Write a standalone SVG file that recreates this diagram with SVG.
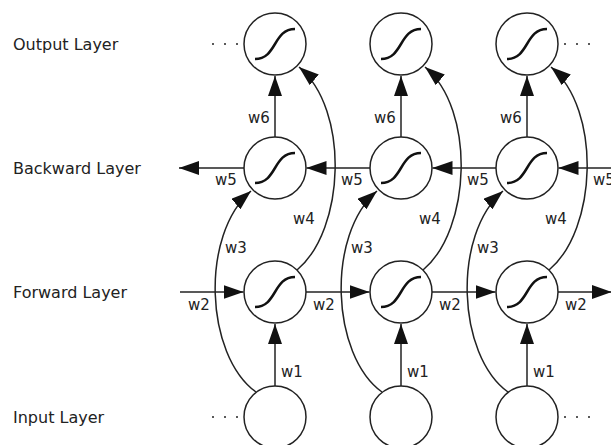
<svg xmlns="http://www.w3.org/2000/svg" width="611" height="445" viewBox="0 0 611 445">
<defs>
<marker id="ah" markerUnits="userSpaceOnUse" viewBox="0 0 20 14" refX="20" refY="7" markerWidth="20" markerHeight="14" orient="auto">
<path d="M0,0 L20,7 L0,14 z" fill="#111"/>
</marker>
<path id="sig" d="M-20,15 C2,15 -2,-15 20,-15"/>
</defs>
<style>
.n{fill:#fff;stroke:#222;stroke-width:1.5}
.s{fill:none;stroke:#111;stroke-width:2.5}
.c{fill:none;stroke:#222;stroke-width:1.5;marker-end:url(#ah)}
.t{font-family:"DejaVu Sans",sans-serif;font-size:16px;fill:#222}
.w{font-family:"DejaVu Sans",sans-serif;font-size:15px;fill:#222}
.d{fill:#222}
</style>
<rect width="611" height="445" fill="#fff"/>
<g id="layer-labels">
<text class="t" x="13" y="50">Output Layer</text>
<text class="t" x="13" y="174">Backward Layer</text>
<text class="t" x="13" y="298">Forward Layer</text>
<text class="t" x="13" y="423">Input Layer</text>
</g>
<g id="connectors">
<line class="c" x1="275" y1="137" x2="275" y2="76"/>
<line class="c" x1="401" y1="137" x2="401" y2="76"/>
<line class="c" x1="527" y1="137" x2="527" y2="76"/>
<line class="c" x1="275" y1="386" x2="275" y2="324"/>
<line class="c" x1="401" y1="386" x2="401" y2="324"/>
<line class="c" x1="527" y1="386" x2="527" y2="324"/>
<line class="c" x1="180" y1="292" x2="243.5" y2="292"/>
<line class="c" x1="306" y1="292" x2="369.5" y2="292"/>
<line class="c" x1="432" y1="292" x2="495.5" y2="292"/>
<line class="c" x1="558" y1="292" x2="612" y2="292"/>
<line class="c" x1="244" y1="168" x2="179" y2="168"/>
<line class="c" x1="370" y1="168" x2="306.5" y2="168"/>
<line class="c" x1="496" y1="168" x2="432.5" y2="168"/>
<line class="c" x1="612" y1="168" x2="558.5" y2="168"/>
<path class="c" d="M256,392 C205,355 200,235 251,191"/>
<path class="c" d="M382,392 C331,355 326,235 377,191"/>
<path class="c" d="M508,392 C457,355 452,235 503,191"/>
<path class="c" d="M297,270 C345,230 350,110 299,67"/>
<path class="c" d="M423,270 C471,230 476,110 425,67"/>
<path class="c" d="M549,270 C597,230 602,110 551,67"/>
</g>
<g id="weight-labels">
<text class="w" x="248" y="123">w6</text>
<text class="w" x="374" y="123">w6</text>
<text class="w" x="500" y="123">w6</text>
<text class="w" x="215" y="185">w5</text>
<text class="w" x="341" y="185">w5</text>
<text class="w" x="467" y="185">w5</text>
<text class="w" x="593" y="185">w5</text>
<text class="w" x="293" y="224">w4</text>
<text class="w" x="419" y="224">w4</text>
<text class="w" x="545" y="224">w4</text>
<text class="w" x="225" y="253">w3</text>
<text class="w" x="351" y="253">w3</text>
<text class="w" x="477" y="253">w3</text>
<text class="w" x="188" y="310">w2</text>
<text class="w" x="313" y="310">w2</text>
<text class="w" x="439" y="310">w2</text>
<text class="w" x="565" y="310">w2</text>
<text class="w" x="281" y="377">w1</text>
<text class="w" x="407" y="377">w1</text>
<text class="w" x="533" y="377">w1</text>
</g>
<g id="out1"><circle class="n" cx="275" cy="44" r="31"/><use href="#sig" class="s" x="275" y="44"/></g>
<g id="out2"><circle class="n" cx="401" cy="44" r="31"/><use href="#sig" class="s" x="401" y="44"/></g>
<g id="out3"><circle class="n" cx="527" cy="44" r="31"/><use href="#sig" class="s" x="527" y="44"/></g>
<g id="bwd1"><circle class="n" cx="275" cy="168" r="31"/><use href="#sig" class="s" x="275" y="168"/></g>
<g id="bwd2"><circle class="n" cx="401" cy="168" r="31"/><use href="#sig" class="s" x="401" y="168"/></g>
<g id="bwd3"><circle class="n" cx="527" cy="168" r="31"/><use href="#sig" class="s" x="527" y="168"/></g>
<g id="fwd1"><circle class="n" cx="275" cy="292" r="31"/><use href="#sig" class="s" x="275" y="292"/></g>
<g id="fwd2"><circle class="n" cx="401" cy="292" r="31"/><use href="#sig" class="s" x="401" y="292"/></g>
<g id="fwd3"><circle class="n" cx="527" cy="292" r="31"/><use href="#sig" class="s" x="527" y="292"/></g>
<g id="in1"><circle class="n" cx="275" cy="417" r="31"/></g>
<g id="in2"><circle class="n" cx="401" cy="417" r="31"/></g>
<g id="in3"><circle class="n" cx="527" cy="417" r="31"/></g>
<g id="ellipses">
<circle class="d" cx="213" cy="44" r="1"/><circle class="d" cx="225" cy="44" r="1"/><circle class="d" cx="237" cy="44" r="1"/>
<circle class="d" cx="565" cy="44" r="1"/><circle class="d" cx="577" cy="44" r="1"/><circle class="d" cx="589" cy="44" r="1"/>
<circle class="d" cx="213" cy="417" r="1"/><circle class="d" cx="225" cy="417" r="1"/><circle class="d" cx="237" cy="417" r="1"/>
<circle class="d" cx="565" cy="417" r="1"/><circle class="d" cx="577" cy="417" r="1"/><circle class="d" cx="589" cy="417" r="1"/>
</g>
</svg>
